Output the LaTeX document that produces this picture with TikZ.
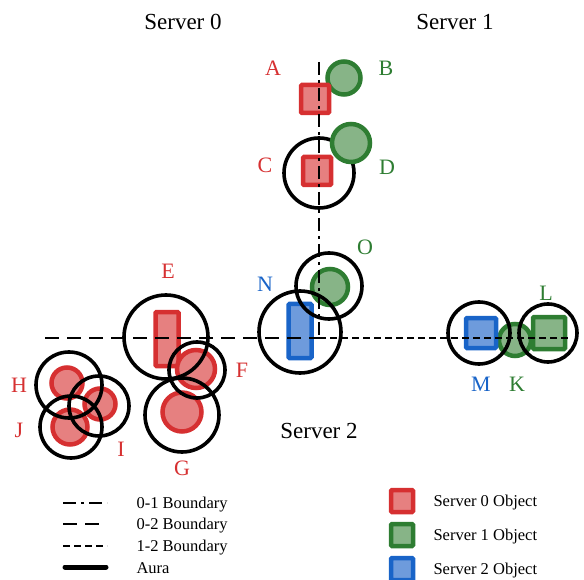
\documentclass[tikz,border=0pt]{standalone}
\usepackage{fontspec}
\setmainfont{Liberation Serif}
\definecolor{rS}{RGB}{214,48,49}
\definecolor{rF}{RGB}{230,128,128}
\definecolor{gS}{RGB}{46,125,50}
\definecolor{gF}{RGB}{135,180,135}
\definecolor{bS}{RGB}{25,100,200}
\definecolor{bF}{RGB}{110,155,220}
\tikzset{
  robj/.style={draw=rS,fill=rF,line width=4.5pt,inner sep=0pt},
  gobj/.style={draw=gS,fill=gF,line width=4.5pt,inner sep=0pt},
  bobj/.style={draw=bS,fill=bF,line width=4.5pt,inner sep=0pt},
  sq/.style={rectangle,rounded corners=1pt,minimum width=#1,minimum height=#1},
  rc/.style={rectangle,rounded corners=1pt,minimum width=23pt,minimum height=54pt},
  ci/.style={circle,minimum size=#1},
  aura/.style={circle,draw=black,line width=3.6pt,minimum size=#1,inner sep=0pt},
  lbl/.style={font=\fontsize{22}{24}\selectfont},
  ttl/.style={font=\fontsize{23}{25}\selectfont},
  leg/.style={font=\fontsize{16.5}{18}\selectfont,anchor=west},
  b01/.style={line width=2.2pt,dash pattern=on 13pt off 5pt on 3pt off 5pt},
  b02/.style={line width=2.2pt,dash pattern=on 14pt off 8pt},
  b12/.style={line width=2.2pt,dash pattern=on 7pt off 4pt},
}
\begin{document}
\begin{tikzpicture}[x=1pt,y=-1pt]
\useasboundingbox (0,0) rectangle (584,580);
% titles
\node[ttl] (s0) at (183,22) {Server 0};
\node[ttl] (s1) at (455,22) {Server 1};
\node[ttl] (s2) at (319,431) {Server 2};
% objects
\node[gobj,ci=33pt] (B) at (344,78) {};
\node[robj,sq=28pt] (A) at (315,99) {};
\node[robj,sq=28pt] (C) at (317,171) {};
\node[gobj,ci=36pt] (O) at (330,287) {};
\node[bobj,rc] (N) at (300,331) {};
\node[robj,rc] (E) at (167,339) {};
\node[robj,ci=38pt] (F) at (196,369) {};
\node[robj,ci=39pt] (G) at (182,412) {};
\node[robj,ci=31pt] (H) at (67,383) {};
\node[robj,ci=31pt] (I) at (100,404) {};
\node[robj,ci=35pt] (J) at (70,427) {};
\node[gobj,ci=32pt] (K) at (515,340) {};
\node[bobj,sq=30pt] (M) at (481,333) {};
\node[gobj,sq=32pt] (L) at (549,333) {};
% auras
\node[aura=70pt] (aC) at (319,173) {};
\node[gobj,ci=38pt] (D) at (351,143) {};
\node[aura=66pt] (aO) at (329,286) {};
\node[aura=82pt] (aN) at (300,332) {};
\node[aura=84pt] (aE) at (166,337) {};
\node[aura=56pt] (aF) at (197,370) {};
\node[aura=74pt] (aG) at (182,415) {};
\node[aura=66pt] (aH) at (69,385) {};
\node[aura=60pt] (aI) at (99,406) {};
\node[aura=62pt] (aJ) at (71,427) {};
\node[aura=62pt] (aM) at (479,333) {};
\node[aura=58pt] (aL) at (548,333) {};
% labels
\node[lbl,text=rS] (lA) at (273,68) {A};
\node[lbl,text=gS] (lB) at (386,68) {B};
\node[lbl,text=rS] (lC) at (265,165) {C};
\node[lbl,text=gS] (lD) at (387,167) {D};
\node[lbl,text=rS] (lE) at (168,271) {E};
\node[lbl,text=rS] (lF) at (242,370) {F};
\node[lbl,text=rS] (lG) at (182,468) {G};
\node[lbl,text=rS] (lH) at (19,385) {H};
\node[lbl,text=rS] (lI) at (121,449) {I};
\node[lbl,text=rS] (lJ) at (19,430) {J};
\node[lbl,text=bS] (lN) at (265,284) {N};
\node[lbl,text=gS] (lO) at (365,247) {O};
\node[lbl,text=bS] (lM) at (481,384) {M};
\node[lbl,text=gS] (lK) at (517,384) {K};
\node[lbl,text=gS] (lL) at (546,293) {L};
% boundaries
\coordinate (top) at (319,62);
\coordinate (mid) at (319,338);
\coordinate (left) at (45,338);
\coordinate (right) at (568,338);
\draw[b01] (top) -- (mid);
\draw[b02] (left) -- (mid);
\draw[b12] (mid) -- (right);
% legend lines
\coordinate (l1a) at (63,503); \coordinate (l1b) at (107,503);
\coordinate (l2a) at (63,524); \coordinate (l2b) at (107,524);
\coordinate (l3a) at (63,546); \coordinate (l3b) at (107,546);
\coordinate (l4a) at (65,567); \coordinate (l4b) at (106,567);
\draw[b01] (l1a) -- (l1b);
\draw[b02] (l2a) -- (l2b);
\draw[b12] (l3a) -- (l3b);
\draw[line width=5pt,line cap=round] (l4a) -- (l4b);
\node[leg] (t1) at (133,505) {0-1 Boundary};
\node[leg] (t2) at (133,526) {0-2 Boundary};
\node[leg] (t3) at (133,548) {1-2 Boundary};
\node[leg] (t4) at (133,568) {Aura};
% legend objects
\node[robj,sq=22pt] (k0) at (402,501) {};
\node[gobj,sq=22pt] (k1) at (402,535) {};
\node[bobj,sq=22pt] (k2) at (402,569) {};
\node[leg] (u0) at (430,503) {Server 0 Object};
\node[leg] (u1) at (430,537) {Server 1 Object};
\node[leg] (u2) at (430,571) {Server 2 Object};
\end{tikzpicture}
\end{document}
